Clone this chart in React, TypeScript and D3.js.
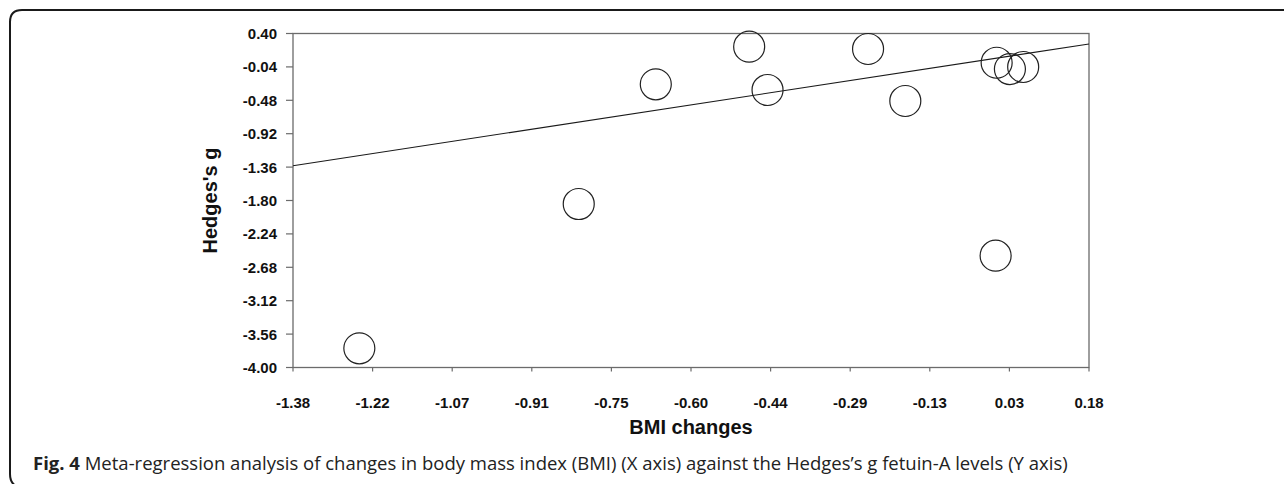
import React from "react";
import * as d3 from "d3";

const bmiChange = [-1.25, -0.82, -0.669, -0.486, -0.45, -0.253, -0.18, -0.001, 0.025, 0.051, -0.003];
const hedgesG = [-3.747, -1.846, -0.269, 0.226, -0.344, 0.196, -0.489, 0.015, -0.068, -0.041, -2.527];
const regX = [-1.38, 0.18];
const regY = [-1.342, 0.262];
const xTicks = [-1.38, -1.224, -1.068, -0.912, -0.756, -0.6, -0.444, -0.288, -0.132, 0.024, 0.18];
const xTickLabels = ["-1.38", "-1.22", "-1.07", "-0.91", "-0.75", "-0.60", "-0.44", "-0.29", "-0.13", "0.03", "0.18"];
const yTicks = [0.4, -0.04, -0.48, -0.92, -1.36, -1.8, -2.24, -2.68, -3.12, -3.56, -4.0];
const yTickLabels = ["0.40", "-0.04", "-0.48", "-0.92", "-1.36", "-1.80", "-2.24", "-2.68", "-3.12", "-3.56", "-4.00"];

const W = 1284, H = 484;
const L = 293, R = 1089, T = 33.5, B = 367.5;

export default function App() {
  const x = d3.scaleLinear().domain([-1.38, 0.18]).range([L, R]);
  const y = d3.scaleLinear().domain([-4.0, 0.4]).range([B, T]);
  const line = d3.line<number>().x((d, i) => x(regX[i])).y((d) => y(d));
  const axisFont = "'Liberation Sans', Arial, sans-serif";
  return (
    <svg width={W} height={H} style={{ position: "absolute", left: 0, top: 0, background: "#fff" }}>
      <path d="M1284,10 L22,10 Q10,10 10,22 L10,474 Q10,484 18,487" fill="none" stroke="#1a1a1a" strokeWidth={2} />
      <rect x={L} y={T} width={R - L} height={B - T} fill="none" stroke="#6b6b6b" strokeWidth={1.3} />
      {yTicks.map((t, i) => (
        <g key={"y" + i}>
          <line x1={L - 7} x2={L} y1={y(t)} y2={y(t)} stroke="#6b6b6b" strokeWidth={1.2} />
          <text x={277} y={y(t)} dy="0.36em" textAnchor="end" fontFamily={axisFont} fontWeight="bold" fontSize={15} fill="#111">
            {yTickLabels[i]}
          </text>
        </g>
      ))}
      {xTicks.map((t, i) => (
        <g key={"x" + i}>
          <line x1={x(t)} x2={x(t)} y1={B} y2={B + 4} stroke="#6b6b6b" strokeWidth={1.2} />
          <text x={x(t)} y={407.5} textAnchor="middle" fontFamily={axisFont} fontWeight="bold" fontSize={15} fill="#111">
            {xTickLabels[i]}
          </text>
        </g>
      ))}
      <path d={line(regY) || ""} fill="none" stroke="#1a1a1a" strokeWidth={1.1} />
      {bmiChange.map((v, i) => (
        <circle key={"c" + i} cx={x(v)} cy={y(hedgesG[i])} r={15.5} fill="none" stroke="#222" strokeWidth={1.2} />
      ))}
      <text transform={`translate(217,${(T + B) / 2}) rotate(-90)`} textAnchor="middle" fontFamily={axisFont} fontWeight="bold" fontSize={20} fill="#111">
        Hedges's g
      </text>
      <text x={(L + R) / 2} y={434} textAnchor="middle" fontFamily={axisFont} fontWeight="bold" fontSize={20} fill="#111">
        BMI changes
      </text>
      <text x={33} y={470} fontFamily="'Open Sans', sans-serif" fontSize={18.5} fill="#222">
        <tspan fontWeight="bold">Fig. 4</tspan>
        <tspan> Meta-regression analysis of changes in body mass index (BMI) (X axis) against the Hedges’s g fetuin-A levels (Y axis)</tspan>
      </text>
    </svg>
  );
}
